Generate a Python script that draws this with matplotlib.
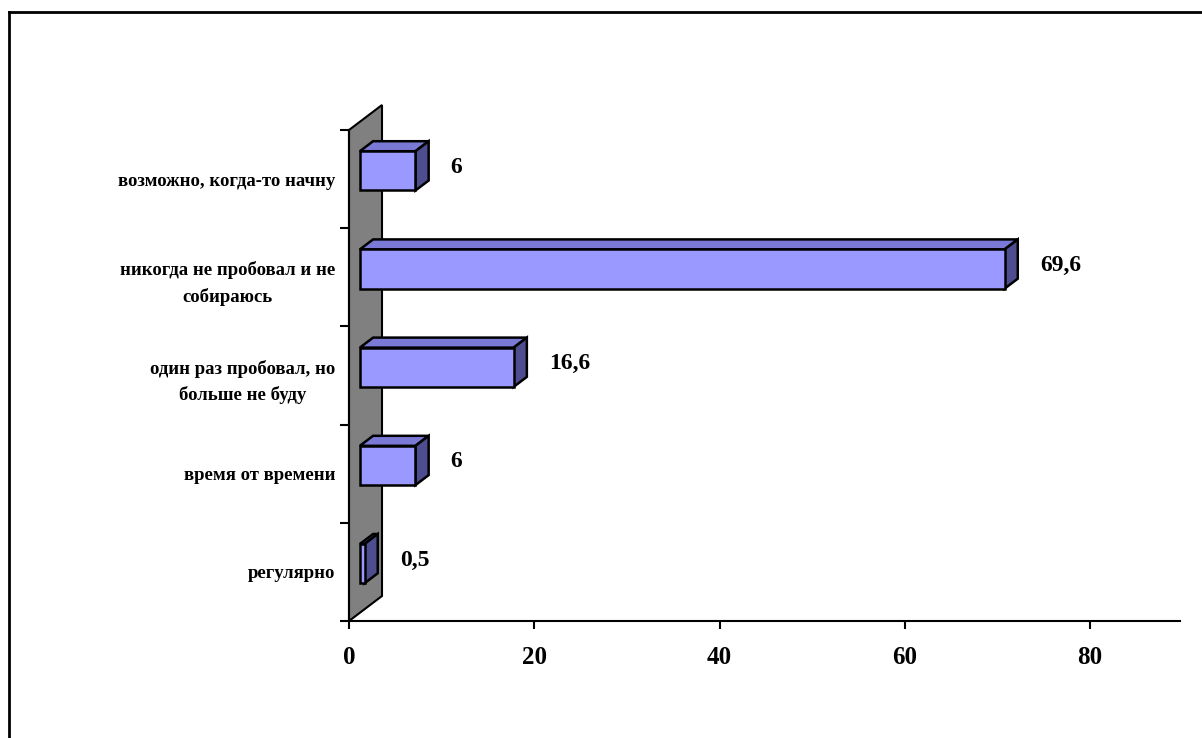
import matplotlib.pyplot as plt
from matplotlib.patches import Polygon

# data (bottom to top)
categories = ['регулярно', 'время от времени', 'один раз пробовал, но\nбольше не буду',
              'никогда не пробовал и не\nсобираюсь', 'возможно, когда-то начну']
values = [0.5, 6, 16.6, 69.6, 6]
value_labels = ['0,5', '6', '16,6', '69,6', '6']
xticks = [0, 20, 40, 60, 80]

plt.rcParams['font.family'] = ['Liberation Serif', 'DejaVu Serif']
plt.rcParams['font.weight'] = 'bold'

fig = plt.figure(figsize=(12.02, 7.38), dpi=100)
ax = fig.add_axes([349 / 1202, 1 - 621 / 738, 831 / 1202, 491 / 738])
xmax = 831 / 9.2625
ax.set_xlim(0, xmax)
ax.set_ylim(0, len(categories))

# 3d depth of the wall (data units)
DX = 33 / 9.2625
DY = 25 / 98.2
f1, f2 = 0.33, 0.73   # bar front / back depth fraction
bh = 0.4

# gray wall
wall = Polygon([(0, 0), (0, len(categories)), (DX, len(categories) + DY), (DX, DY)],
               closed=True, facecolor='#808080', edgecolor='black', lw=1.5,
               clip_on=False, zorder=1)
ax.add_patch(wall)

front_c = '#9999FF'
top_c = '#7A7AD6'
side_c = '#4D4D8F'
for i, v in enumerate(values):
    x0 = f1 * DX
    y0 = i + 0.5 + f1 * DY - bh / 2
    ddx = (f2 - f1) * DX
    ddy = (f2 - f1) * DY
    top = Polygon([(x0, y0 + bh), (x0 + ddx, y0 + bh + ddy), (x0 + v + ddx, y0 + bh + ddy), (x0 + v, y0 + bh)],
                  facecolor=top_c, edgecolor='black', lw=1.8, clip_on=False, zorder=3)
    side = Polygon([(x0 + v, y0), (x0 + v, y0 + bh), (x0 + v + ddx, y0 + bh + ddy), (x0 + v + ddx, y0 + ddy)],
                   facecolor=side_c, edgecolor='black', lw=1.8, clip_on=False, zorder=3)
    front = Polygon([(x0, y0), (x0 + v, y0), (x0 + v, y0 + bh), (x0, y0 + bh)],
                    facecolor=front_c, edgecolor='black', lw=1.8, clip_on=False, zorder=4)
    ax.add_patch(top)
    ax.add_patch(side)
    ax.add_patch(front)
    ax.text(x0 + v + 3.8, i + 0.62, value_labels[i], ha='left', va='center',
            fontsize=17, fontweight='bold')

for s in ['top', 'right']:
    ax.spines[s].set_visible(False)
ax.spines['left'].set_linewidth(1.5)
ax.spines['bottom'].set_linewidth(1.5)
ax.spines['left'].set_zorder(2)

ax.set_xticks(xticks)
ax.set_xticklabels([str(t) for t in xticks], fontsize=18, fontweight='bold')
ax.tick_params(axis='x', length=6, width=1.5, pad=12)

ax.set_yticks(range(len(categories) + 1))
ax.set_yticklabels([])
ax.tick_params(axis='y', which='major', length=6.5, width=1.5)
ax.set_yticks([i + 0.5 for i in range(len(categories))], minor=True)
ax.set_yticklabels(categories, minor=True, fontsize=13.5, fontweight='bold')
for t in ax.get_yticklabels(minor=True):
    t.set_multialignment('center')
    t.set_linespacing(1.6)
ax.tick_params(axis='y', which='minor', length=0, pad=10)

# figure border (left and top visible)
fig.add_artist(plt.Line2D([9 / 1202, 9 / 1202], [0, 1 - 12 / 738], color='black', lw=2))
fig.add_artist(plt.Line2D([9 / 1202, 1], [1 - 12 / 738, 1 - 12 / 738], color='black', lw=2))

fig.savefig('out.png', dpi=100)
